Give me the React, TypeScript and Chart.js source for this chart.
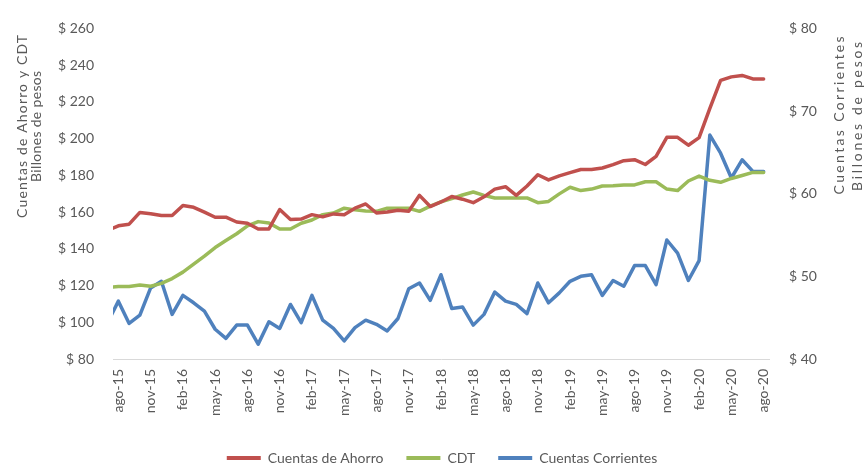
import React, { useEffect, useRef } from 'react';
import { Chart, registerables } from 'chart.js';

Chart.register(...registerables);

const months: string[] = [
  'jul-15', 'ago-15', 'sep-15', 'oct-15', 'nov-15', 'dic-15',
  'ene-16', 'feb-16', 'mar-16', 'abr-16', 'may-16', 'jun-16', 'jul-16', 'ago-16', 'sep-16', 'oct-16', 'nov-16', 'dic-16',
  'ene-17', 'feb-17', 'mar-17', 'abr-17', 'may-17', 'jun-17', 'jul-17', 'ago-17', 'sep-17', 'oct-17', 'nov-17', 'dic-17',
  'ene-18', 'feb-18', 'mar-18', 'abr-18', 'may-18', 'jun-18', 'jul-18', 'ago-18', 'sep-18', 'oct-18', 'nov-18', 'dic-18',
  'ene-19', 'feb-19', 'mar-19', 'abr-19', 'may-19', 'jun-19', 'jul-19', 'ago-19', 'sep-19', 'oct-19', 'nov-19', 'dic-19',
  'ene-20', 'feb-20', 'mar-20', 'abr-20', 'may-20', 'jun-20', 'jul-20', 'ago-20',
];

const cuentasAhorro: number[] = [
  150.1,
  152.5, 153.4, 159.8, 159.1, 158.1, 158.1, 163.6, 162.6, 160.0, 157.2,
  157.2, 154.6, 153.9, 150.8, 150.8, 161.4, 156.0, 156.2, 158.6, 157.4,
  159.0, 158.6, 162.1, 164.4, 159.5, 160.0, 161.0, 160.5, 169.1, 163.0,
  165.5, 168.5, 167.0, 165.1, 168.3, 172.5, 173.8, 169.1, 174.2, 180.3,
  177.5, 179.7, 181.5, 183.2, 183.2, 184.0, 185.8, 188.0, 188.5, 185.9,
  190.3, 200.7, 200.7, 196.4, 200.5, 216.5, 231.7, 233.6, 234.4, 232.5,
  232.5,
];

const cdt: number[] = [
  118.8,
  119.5, 119.5, 120.3, 119.6, 121.2, 123.8, 127.3, 131.7, 136.0, 140.7,
  144.5, 148.2, 152.5, 154.8, 154.0, 150.8, 150.8, 153.9, 155.7, 158.6,
  159.5, 162.1, 161.2, 160.6, 160.4, 162.1, 162.1, 162.1, 160.4, 163.2,
  165.6, 167.3, 169.3, 170.9, 169.1, 167.7, 167.7, 167.7, 167.7, 165.1,
  165.8, 169.9, 173.5, 171.7, 172.5, 174.2, 174.3, 174.8, 174.8, 176.5,
  176.5, 172.5, 171.7, 176.9, 179.6, 177.3, 176.2, 178.3, 179.9, 181.6,
  181.6,
];

const cuentasCorrientes: number[] = [
  44.4,
  47.0, 44.3, 45.3, 48.6, 49.4, 45.4, 47.7, 46.8, 45.8, 43.6,
  42.5, 44.1, 44.1, 41.8, 44.5, 43.7, 46.6, 44.4, 47.7, 44.7,
  43.7, 42.2, 43.8, 44.7, 44.2, 43.4, 44.9, 48.5, 49.2, 47.1,
  50.2, 46.1, 46.3, 44.1, 45.4, 48.1, 47.0, 46.6, 45.5, 49.2,
  46.8, 48.0, 49.4, 50.0, 50.2, 47.7, 49.5, 48.8, 51.3, 51.3,
  49.0, 54.4, 52.8, 49.5, 51.9, 67.1, 64.9, 61.9, 64.1, 62.7,
  62.7,
];

const seriesNames: string[] = ['Cuentas de Ahorro', 'CDT', 'Cuentas Corrientes'];
const seriesColors: string[] = ['#C0504D', '#9BBB59', '#4F81BD'];
const leftTitle: string[] = ['Cuentas de Ahorro y CDT', 'Billones de pesos'];
const rightTitle: string[] = ['Cuentas Corrientes', 'Billones de pesos'];

const TEXT = '#595959';
const FONT = 'Lato';

// drawn lengths (px) of each title line, matching the reference's spacing
const leftTitleWidths = [183, 111];
const rightTitleWidths = [158, 149];

const axisTitlesPlugin = {
  id: 'axisTitles',
  afterDraw(chart: any) {
    const { ctx, chartArea } = chart;
    ctx.save();
    ctx.fillStyle = TEXT;
    ctx.font = `14px ${FONT}`;
    ctx.textBaseline = 'middle';
    const drawLine = (text: string, target: number) => {
      const chars = Array.from(text);
      const natural = ctx.measureText(text).width;
      const ls = chars.length > 1 ? (target - natural) / (chars.length - 1) : 0;
      if ('letterSpacing' in ctx) {
        ctx.letterSpacing = `${ls}px`;
        ctx.textAlign = 'left';
        const w = ctx.measureText(text).width - ls;
        ctx.fillText(text, -w / 2, 0);
        ctx.letterSpacing = '0px';
      } else {
        ctx.textAlign = 'left';
        let x = -target / 2;
        chars.forEach((ch) => {
          ctx.fillText(ch, x, 0);
          x += ctx.measureText(ch).width + ls;
        });
      }
    };
    const draw = (lines: string[], widths: number[], x0: number, ys: number[], gap: number) => {
      lines.forEach((l, i) => {
        ctx.save();
        ctx.translate(x0 + i * gap, ys[i]);
        ctx.rotate(-Math.PI / 2);
        drawLine(l, widths[i]);
        ctx.restore();
      });
    };
    draw(leftTitle, leftTitleWidths, chartArea.left - 91, [chartArea.top + 98, chartArea.top + 98], 14);
    draw(rightTitle, rightTitleWidths, chartArea.right + 70, [chartArea.top + 87, chartArea.top + 88], 18);
    ctx.restore();
  },
};

export default function App() {
  const ref = useRef<HTMLCanvasElement | null>(null);

  useEffect(() => {
    if (!ref.current) return;
    Chart.defaults.font.family = FONT;
    Chart.defaults.font.size = 14;
    Chart.defaults.color = TEXT;

    const values = [cuentasAhorro, cdt, cuentasCorrientes];
    const axes = ['y', 'y', 'y1'];

    const chart = new Chart(ref.current, {
      type: 'line',
      data: {
        labels: months,
        datasets: values.map((v, i) => ({
          label: seriesNames[i],
          data: v,
          borderColor: seriesColors[i],
          backgroundColor: seriesColors[i],
          borderWidth: 3.5,
          pointRadius: 0,
          pointHoverRadius: 0,
          tension: 0,
          borderJoinStyle: 'round' as const,
          borderCapStyle: 'round' as const,
          yAxisID: axes[i],
        })),
      },
      options: {
        animation: false,
        responsive: true,
        maintainAspectRatio: false,
        layout: { padding: { left: 18, right: 0, top: 14, bottom: 0 } },
        plugins: {
          tooltip: { enabled: false },
          legend: {
            position: 'bottom',
            maxHeight: 41,
            labels: {
              boxWidth: 34,
              boxHeight: 4,
              padding: 23,
              color: TEXT,
              font: { size: 14, family: FONT },
              generateLabels: (c: any) =>
                c.data.datasets.map((ds: any, i: number) => ({
                  text: ds.label,
                  fillStyle: ds.borderColor,
                  strokeStyle: ds.borderColor,
                  lineWidth: 0,
                  hidden: false,
                  datasetIndex: i,
                  fontColor: TEXT,
                })),
            },
          },
        },
        scales: {
          x: {
            type: 'category',
            min: 'ago-15',
            offset: true,
            grid: { display: false, drawTicks: false },
            border: { display: true, color: '#D9D9D9', width: 1 },
            afterFit: (s: any) => { s.height = 69; },
            ticks: {
              autoSkip: false,
              minRotation: 90,
              maxRotation: 90,
              padding: 10,
              color: TEXT,
              font: { size: 14, family: FONT },
              callback: function (this: any, value: any, index: number) {
                return index % 3 === 0 ? this.getLabelForValue(value) : null;
              },
            },
          },
          y: {
            position: 'left',
            min: 80,
            max: 260,
            grid: { display: false, drawTicks: false },
            border: { display: false },
            afterFit: (s: any) => { s.width = 95; },
            ticks: {
              stepSize: 20,
              padding: 19,
              color: TEXT,
              font: { size: 14, family: FONT },
              callback: (v: any) => '$ ' + v,
            },
          },
          y1: {
            position: 'right',
            min: 40,
            max: 80,
            grid: { display: false, drawTicks: false },
            border: { display: false },
            afterFit: (s: any) => { s.width = 97; },
            ticks: {
              stepSize: 10,
              padding: 20,
              color: TEXT,
              font: { size: 14, family: FONT },
              callback: (v: any) => '$ ' + v,
            },
          },
        },
      },
      plugins: [axisTitlesPlugin],
    } as any);

    return () => chart.destroy();
  }, []);

  return (
    <div style={{ position: 'fixed', left: 0, top: 0, width: 866, height: 469, background: '#fff' }}>
      <canvas ref={ref} />
    </div>
  );
}
